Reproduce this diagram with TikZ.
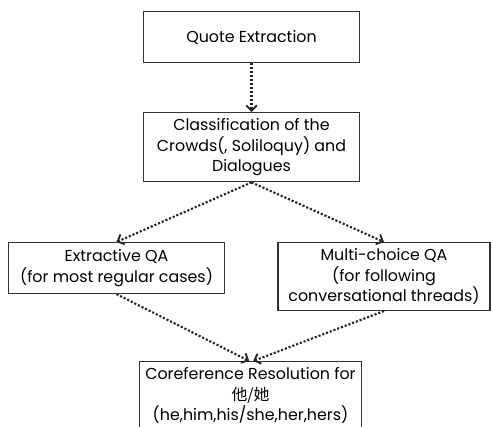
\documentclass[tikz,border=0pt]{standalone}
\usepackage{fontspec}
\setmainfont{Poppins}
\newfontfamily\cjk{Noto Sans CJK SC}
\usetikzlibrary{arrows.meta}
\begin{document}
\begin{tikzpicture}[x=.75pt,y=-.75pt,font=\fontsize{11.9}{15.2}\selectfont,
    stage/.style={draw=black!80,line width=1.1pt,anchor=north,align=center,
      minimum width=162pt,minimum height=38pt,inner sep=4.5pt},
    flow/.style={line width=1.6pt,dash pattern=on 1.6pt off 1.4pt,
      -{Straight Barb[length=4pt,width=8pt,line width=1.4pt]},black!85}]
\useasboundingbox (0,0) rectangle (492,427);
\node[stage] (quote) at (251.5,11) {Quote Extraction};
\node[stage] (classify) at (251.5,112) {Classification of the\\Crowds(, Soliloquy) and\\Dialogues};
\node[stage] (extract) at (116.5,242) {Extractive QA\\(for most regular cases)};
\node[stage,minimum width=159pt] (choice) at (384,242) {Multi-choice QA\\(for following\\conversational threads)};
\node[stage,minimum width=161pt] (coref) at (250.5,361) {Coreference Resolution for\\{\cjk 他/她}\\(he,him,his/she,her,hers)};
\draw[flow] (quote) -- (classify);
\draw[flow] (classify.south) -- (extract.north);
\draw[flow] (classify.south) -- (choice.north);
\draw[flow] (extract.south) -- ([xshift=-1pt]coref.north);
\draw[flow] (choice.south) -- ([xshift=2pt]coref.north);
\end{tikzpicture}
\end{document}
